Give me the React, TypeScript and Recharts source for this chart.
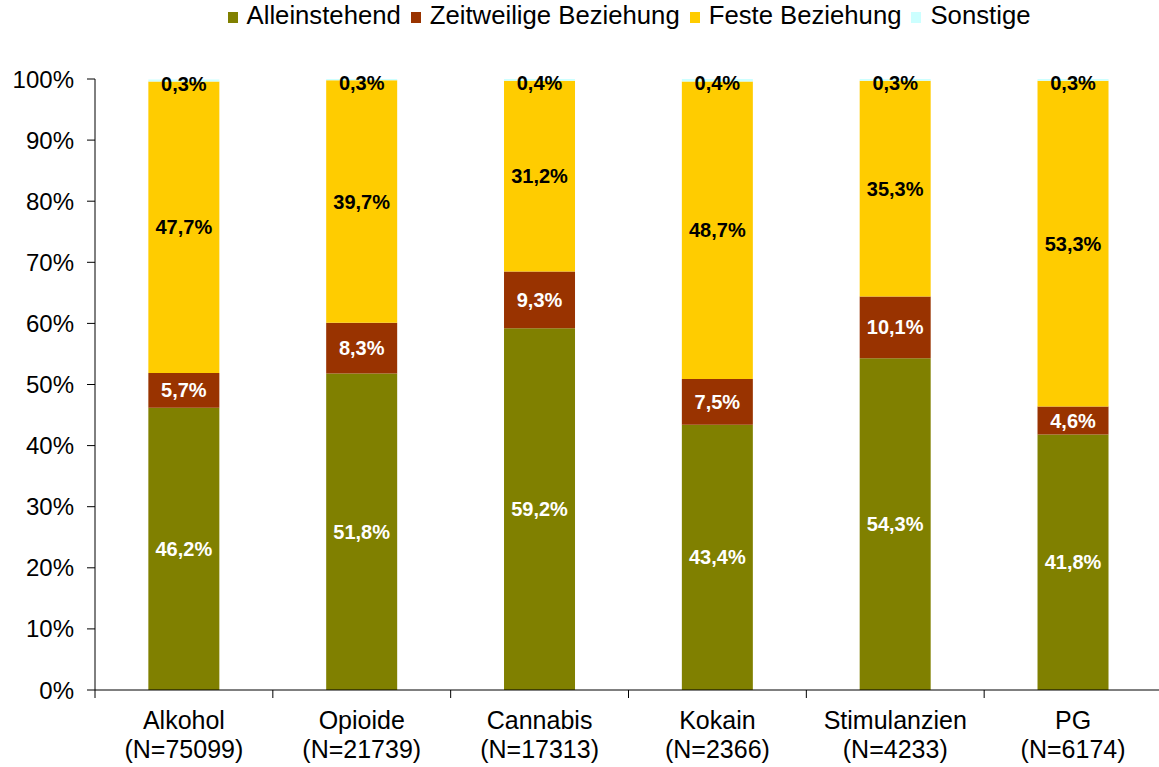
import { BarChart, Bar, XAxis, YAxis, Legend, LabelList } from 'recharts';

const categories = ['Alkohol', 'Opioide', 'Cannabis', 'Kokain', 'Stimulanzien', 'PG'];
const sampleSizes = ['N=75099', 'N=21739', 'N=17313', 'N=2366', 'N=4233', 'N=6174'];
const alleinstehend = [46.2, 51.8, 59.2, 43.4, 54.3, 41.8];
const zeitweilig = [5.7, 8.3, 9.3, 7.5, 10.1, 4.6];
const fest = [47.7, 39.7, 31.2, 48.7, 35.3, 53.3];
const sonstige = [0.3, 0.3, 0.4, 0.4, 0.3, 0.3];
const yTicks = [0, 10, 20, 30, 40, 50, 60, 70, 80, 90, 100];

const seriesInfo = [
  { key: 'allein', name: 'Alleinstehend', color: '#808000', text: '#ffffff' },
  { key: 'zeit', name: 'Zeitweilige Beziehung', color: '#993300', text: '#ffffff' },
  { key: 'fest', name: 'Feste Beziehung', color: '#FFCC00', text: '#000000' },
  { key: 'sonst', name: 'Sonstige', color: '#CCFFFF', text: '#000000' },
];

const chartData = categories.map((c, i) => ({
  name: c,
  n: sampleSizes[i],
  allein: alleinstehend[i],
  zeit: zeitweilig[i],
  fest: fest[i],
  sonst: sonstige[i],
}));

const W = 1170;
const H = 767;
const M = { top: 79, right: 8, left: 14, bottom: 7 };
const Y_W = 81;
const BAND = (W - M.left - M.right - Y_W) / categories.length;
const FONT = '"Liberation Sans", Arial, sans-serif';

const fmt = (v: number) => `${v.toFixed(1).replace('.', ',')}%`;

function CategoryTick(props: any) {
  const { x, y, payload, index } = props;
  const d = chartData[index] ?? chartData.find((r) => r.name === payload.value);
  return (
    <g>
      <line x1={x - BAND / 2} x2={x - BAND / 2} y1={y - 8} y2={y} stroke="#000" />
      {index === categories.length - 1 && (
        <line x1={x + BAND / 2} x2={x + BAND / 2} y1={y - 8} y2={y} stroke="#000" />
      )}
      <text x={x} y={y + 31} textAnchor="middle" fontSize={25} fill="#000" fontFamily={FONT}>
        <tspan x={x}>{payload.value}</tspan>
        <tspan x={x} dy={29}>({d?.n})</tspan>
      </text>
    </g>
  );
}

function makeLabel(color: string, top: boolean) {
  return (props: any) => {
    const { x, y, width, height, value } = props;
    const cy = top ? y + 4 : y + height / 2;
    return (
      <text
        x={x + width / 2}
        y={cy}
        textAnchor="middle"
        dominantBaseline="central"
        fontSize={20}
        fontWeight="bold"
        fill={color}
        fontFamily={FONT}
      >
        {fmt(value)}
      </text>
    );
  };
}

function LegendContent() {
  return (
    <div style={{ display: 'flex', justifyContent: 'center', fontFamily: FONT, fontSize: 25.7, lineHeight: '30px', color: '#000' }}>
      {seriesInfo.map((s) => (
        <div key={s.key} style={{ display: 'flex', alignItems: 'center', marginRight: 10 }}>
          <span style={{ width: 10, height: 11, background: s.color, display: 'inline-block', marginRight: 9, marginTop: 5 }} />
          <span>{s.name}</span>
        </div>
      ))}
    </div>
  );
}

export default function App() {
  return (
    <div style={{ position: 'absolute', left: 0, top: 0, width: 1159, height: H, overflow: 'hidden', background: '#fff' }}>
      <BarChart width={W} height={H} data={chartData} margin={M} barCategoryGap="30%">
        <XAxis
          dataKey="name"
          interval={0}
          tickLine={false}
          axisLine={{ stroke: '#000' }}
          tick={<CategoryTick />}
          height={70}
        />
        <YAxis
          type="number"
          domain={[0, 100]}
          allowDataOverflow
          ticks={yTicks}
          tickFormatter={(v: number) => `${v}%`}
          width={Y_W}
          tickSize={8}
          tickMargin={13}
          tickLine={{ stroke: '#000' }}
          axisLine={{ stroke: '#000' }}
          tick={{ fontSize: 24, fill: '#000', fontFamily: FONT }}
        />
        <Legend
          verticalAlign="middle"
          content={<LegendContent />}
          wrapperStyle={{ top: 0, left: 100, width: 1068 }}
        />
        {seriesInfo.map((s, i) => (
          <Bar
            key={s.key}
            dataKey={s.key}
            name={s.name}
            stackId="a"
            fill={s.color}
            isAnimationActive={false}
          >
            <LabelList dataKey={s.key} content={makeLabel(s.text, i === 3)} />
          </Bar>
        ))}
      </BarChart>
    </div>
  );
}
